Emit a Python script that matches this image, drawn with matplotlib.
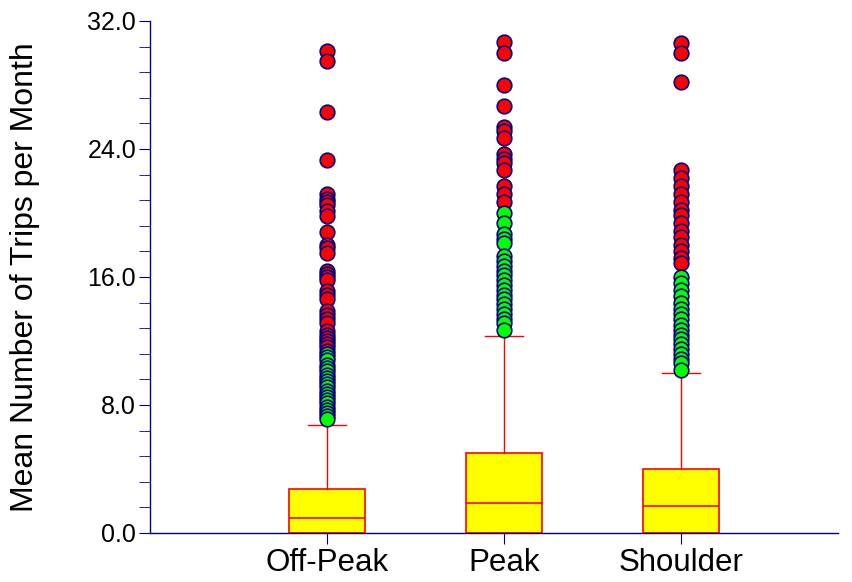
import matplotlib
matplotlib.use("Agg")
import matplotlib.pyplot as plt
from matplotlib.ticker import MultipleLocator, FormatStrFormatter

plt.rcParams['font.family'] = ['Liberation Sans', 'DejaVu Sans']

categories = ["Off-Peak", "Peak", "Shoulder"]
q1 = [0.0, 0.0, 0.0]
medians = [0.92, 1.90, 1.69]
q3 = [2.73, 4.98, 3.98]
whisker_low = [0.0, 0.0, 0.0]
whisker_high = [6.75, 12.3, 10.0]

near_outliers = [
    [11.2, 11.0, 10.8, 10.5, 10.3, 10.1, 9.9, 9.7, 9.5, 9.3, 9.1, 8.9, 8.7,
     8.5, 8.3, 8.1, 7.9, 7.7, 7.5, 7.3, 7.1],
    [20.0, 19.4, 18.7, 18.4, 18.1, 17.3, 17.0, 16.7, 16.4, 16.1, 15.8, 15.5,
     15.2, 14.9, 14.6, 14.3, 14.0, 13.7, 13.4, 13.1, 12.7],
    [16.0, 15.6, 15.2, 14.8, 14.4, 14.0, 13.7, 13.4, 13.0, 12.7, 12.4, 12.1,
     11.8, 11.5, 11.2, 10.9, 10.6, 10.2],
]
far_outliers = [
    [30.1, 29.5, 26.3, 23.3, 21.2, 20.9, 20.7, 20.5, 20.1, 19.8, 18.8, 18.0,
     17.8, 17.5, 16.4, 16.2, 16.0, 15.8, 15.1, 14.9, 14.6, 13.9, 13.6, 13.4,
     13.1, 12.6, 12.4, 12.2, 12.0, 11.8, 11.6, 11.4],
    [30.7, 30.0, 28.0, 26.7, 25.4, 25.1, 24.7, 23.7, 23.4, 23.1, 22.7, 21.7,
     21.2, 20.7],
    [30.6, 30.0, 28.2, 22.7, 22.2, 21.7, 21.2, 20.7, 20.2, 19.9, 19.4, 18.9,
     18.5, 18.0, 17.6, 17.2, 16.9],
]

navy = "#000080"
fig = plt.figure(figsize=(8.53, 5.82), dpi=100)
ax = fig.add_axes([0.176, 0.0842, 0.806, 0.8798])

positions = list(range(1, len(categories) + 1))
stats = []
for i, name in enumerate(categories):
    stats.append(dict(label=name, med=medians[i], q1=q1[i], q3=q3[i],
                      whislo=whisker_low[i], whishi=whisker_high[i], fliers=[]))

ax.bxp(stats, positions=positions, widths=0.43, showfliers=False,
       patch_artist=True,
       boxprops=dict(facecolor="#FFFF00", edgecolor="#FF0000", linewidth=1.2),
       medianprops=dict(color="#FF0000", linewidth=1.2),
       whiskerprops=dict(color="#FF0000", linewidth=1.0),
       capprops=dict(color="#FF0000", linewidth=1.0),
       manage_ticks=False)

for i, pos in enumerate(positions):
    pts = [(v, "#FF0000") for v in far_outliers[i]] + [(v, "#00FF00") for v in near_outliers[i]]
    pts.sort(key=lambda t: -t[0])
    for v, c in pts:
        ax.plot([pos], [v], marker="o", markersize=10.5, markerfacecolor=c,
                markeredgecolor=navy, markeredgewidth=1.2, linestyle="none",
                zorder=5, clip_on=False)

ax.set_xlim(0, 3.887)
ax.set_ylim(0, 32)
ax.set_xticks(positions)
ax.set_xticklabels(categories, fontsize=22.5)
ax.yaxis.set_major_locator(MultipleLocator(8))
ax.yaxis.set_minor_locator(MultipleLocator(1.6))
ax.yaxis.set_major_formatter(FormatStrFormatter("%.1f"))
ax.tick_params(axis="y", which="major", labelsize=18, length=8, color=navy, direction="out", pad=2)
ax.tick_params(axis="y", which="minor", length=8, color=navy, direction="out")
ax.tick_params(axis="x", which="major", length=8, color=navy, direction="out", pad=3)
ax.set_ylabel("Mean Number of Trips per Month", fontsize=23)
ax.yaxis.set_label_coords(-0.16, 0.5)

for s in ["top", "right"]:
    ax.spines[s].set_visible(False)
for s in ["left", "bottom"]:
    ax.spines[s].set_color(navy)
    ax.spines[s].set_linewidth(1.0)

fig.savefig("out.png", dpi=100)
